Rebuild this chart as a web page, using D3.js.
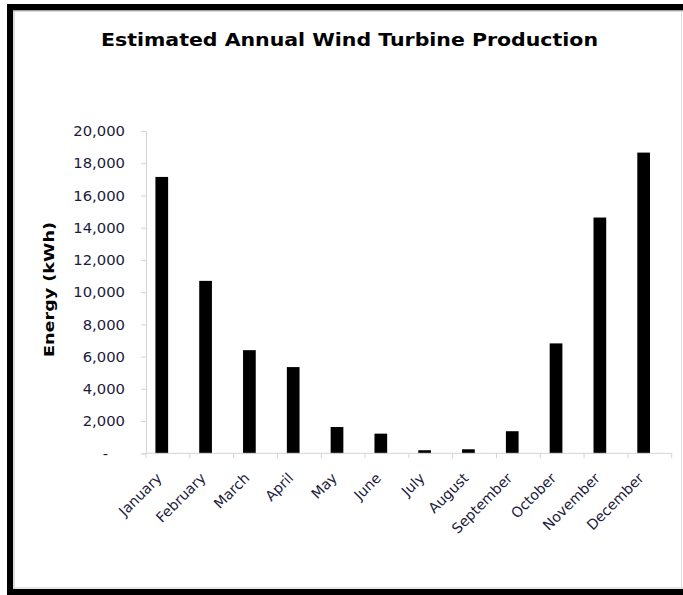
<!DOCTYPE html>
<html>
<head>
<meta charset="utf-8">
<script src="https://cdn.jsdelivr.net/npm/d3@7"></script>
<style>
  body { margin: 0; background: #fff; }
  svg { display: block; }
  .axis path, .axis line { stroke: #d4d4d4; }
  .axis text { font-family: "DejaVu Sans", Verdana, sans-serif; fill: #1c1c3c; }
</style>
</head>
<body>
<svg id="chart" width="683" height="595"></svg>
<script>
const months = ["January", "February", "March", "April", "May", "June",
    "July", "August", "September", "October", "November", "December"];
const energy = [17150, 10700, 6400, 5350, 1630, 1220, 190, 250, 1370, 6820, 14630, 18660];
const yTicks = [0, 2000, 4000, 6000, 8000, 10000, 12000, 14000, 16000, 18000, 20000];
const title = "Estimated Annual Wind Turbine Production";
const yLabel = "Energy (kWh)";

const svg = d3.select("#chart");

// frame (black on top, left, bottom; faint line on the right)
svg.append("rect").attr("x", 7).attr("y", 4).attr("width", 676).attr("height", 6.5).attr("fill", "#000");
svg.append("rect").attr("x", 7).attr("y", 4).attr("width", 6).attr("height", 591).attr("fill", "#000");
svg.append("rect").attr("x", 7).attr("y", 589).attr("width", 676).attr("height", 6).attr("fill", "#000");
svg.append("line").attr("x1", 13).attr("x2", 683).attr("y1", 11).attr("y2", 11).attr("stroke", "#bbb");
svg.append("line").attr("x1", 14).attr("x2", 14).attr("y1", 11).attr("y2", 589).attr("stroke", "#bbb");
svg.append("line").attr("x1", 13).attr("x2", 683).attr("y1", 588).attr("y2", 588).attr("stroke", "#ccc");
svg.append("line").attr("x1", 681.5).attr("x2", 681.5).attr("y1", 11).attr("y2", 588).attr("stroke", "#ddd");

const x = d3.scaleBand()
    .domain(months)
    .range([146, 671.7])
    .paddingInner(0)
    .paddingOuter(0);

const y = d3.scaleLinear()
    .domain([0, 20000])
    .range([453.3, 131]);

// bars sit a little left of the band centre, as in the original
const barX = d => x(d) + x.bandwidth() * 0.215;
const barW = x.bandwidth() * 0.29;

svg.append("g")
    .selectAll("rect")
    .data(months)
    .join("rect")
    .attr("x", barX)
    .attr("width", barW)
    .attr("y", (d, i) => y(energy[i]))
    .attr("height", (d, i) => y(0) - y(energy[i]))
    .attr("fill", "#000");

// Y axis
const yAxis = svg.append("g")
    .attr("class", "axis")
    .attr("transform", "translate(146,0)")
    .call(d3.axisLeft(y)
        .tickValues(yTicks)
        .tickSize(5)
        .tickPadding(16)
        .tickFormat(d => d === 0 ? "-" : d3.format(",")(d)));
yAxis.selectAll("text").attr("font-size", 14.8);
yAxis.selectAll(".tick").filter(d => d === 0).select("text").attr("x", -38);

// X axis
const xAxis = svg.append("g")
    .attr("class", "axis")
    .attr("transform", "translate(0,453.3)")
    .call(d3.axisBottom(x).tickSize(0).tickFormat(""));
xAxis.select(".domain").attr("d", `M${x.range()[0]},0H${x.range()[1]}`);

// tick marks between categories
xAxis.append("g")
    .selectAll("line")
    .data(months.map(m => x(m)).concat([x.range()[1]]))
    .join("line")
    .attr("x1", d => d)
    .attr("x2", d => d)
    .attr("y1", 0)
    .attr("y2", 5)
    .attr("stroke", "#d4d4d4");

// rotated month labels, ending under each bar
svg.append("g")
    .attr("class", "axis")
    .selectAll("text")
    .data(months)
    .join("text")
    .attr("transform", d => `translate(${barX(d) + barW / 2 + 1},479) rotate(-45)`)
    .attr("text-anchor", "end")
    .attr("font-size", 14.2)
    .text(d => d);

// title
svg.append("text")
    .attr("x", 101)
    .attr("y", 46)
    .attr("textLength", 497)
    .attr("lengthAdjust", "spacingAndGlyphs")
    .attr("font-family", "DejaVu Sans, Verdana, sans-serif")
    .attr("font-weight", "bold")
    .attr("font-size", 17.5)
    .attr("fill", "#000")
    .text(title);

// y label
svg.append("text")
    .attr("transform", "translate(54,357) rotate(-90)")
    .attr("textLength", 135)
    .attr("lengthAdjust", "spacingAndGlyphs")
    .attr("font-family", "DejaVu Sans, Verdana, sans-serif")
    .attr("font-weight", "bold")
    .attr("font-size", 14.8)
    .attr("fill", "#000")
    .text(yLabel);
</script>
</body>
</html>
